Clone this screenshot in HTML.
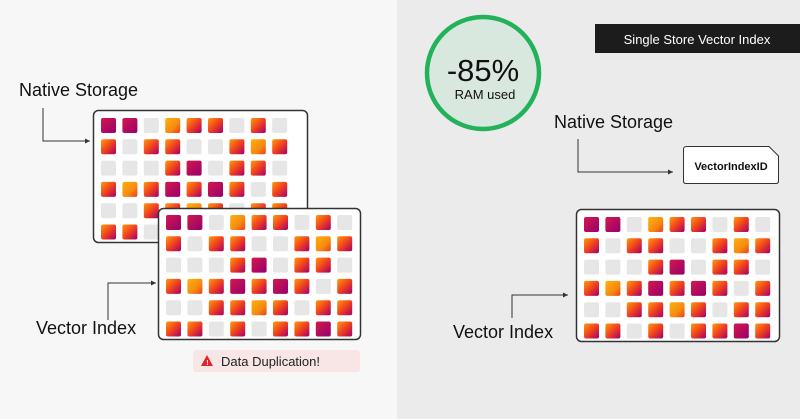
<!DOCTYPE html>
<html><head><meta charset="utf-8"><style>
html,body{margin:0;padding:0;width:800px;height:419px;overflow:hidden;background:#f7f7f7}
svg{display:block;font-family:"Liberation Sans",sans-serif}
</style></head><body>
<svg id="s" width="800" height="419" viewBox="0 0 800 419" xmlns="http://www.w3.org/2000/svg">
<defs>
<linearGradient id="gO" x1="0" y1="0" x2="1" y2="1"><stop offset="0" stop-color="#ff9a0a"/><stop offset="0.5" stop-color="#f0401f"/><stop offset="1" stop-color="#a3006a"/></linearGradient>
<linearGradient id="gY" x1="0" y1="0" x2="1" y2="1"><stop offset="0" stop-color="#ffb20a"/><stop offset="0.6" stop-color="#f68a10"/><stop offset="1" stop-color="#e8401a"/></linearGradient>
<linearGradient id="gD" x1="0" y1="0" x2="1" y2="1"><stop offset="0" stop-color="#d4184a"/><stop offset="1" stop-color="#96006e"/></linearGradient>
<marker id="ar" markerWidth="6" markerHeight="6" refX="5" refY="3" orient="auto"><path d="M0,0.5 L5,3 L0,5.5z" fill="#333"/></marker>
</defs>
<rect x="397" y="0" width="403" height="419" fill="#ebebeb"/>
<!-- left -->
<text x="19" y="96" font-size="18" fill="#111">Native Storage</text>
<polyline points="43,108 43,141 90,141" fill="none" stroke="#333" stroke-width="1" marker-end="url(#ar)"/>
<rect x="93.5" y="110.5" width="214" height="132" rx="5" fill="#fff" stroke="#333" stroke-width="1.5"/>
<g id="g1"></g>
<rect x="158.5" y="208.5" width="202" height="131" rx="5" fill="#fff" stroke="#333" stroke-width="1.5"/>
<g id="g2"></g>
<text x="36" y="334" font-size="18" fill="#111">Vector Index</text>
<polyline points="108,320 108,283 156,283" fill="none" stroke="#333" stroke-width="1" marker-end="url(#ar)"/>
<rect x="193" y="350" width="167" height="22" rx="3" fill="#f8e6e6"/>
<path d="M207,355 L213,366 L201,366z" fill="#e0242a"/>
<text x="206.3" y="365" font-size="7" fill="#fff" font-weight="bold">!</text>
<text x="221" y="366" font-size="13" fill="#222">Data Duplication!</text>
<!-- right -->
<circle cx="483" cy="73" r="56" fill="#d9e8df" stroke="#22b25a" stroke-width="4.5"/>
<text x="483" y="81" font-size="31" text-anchor="middle" fill="#111">-85%</text>
<text x="485" y="99" font-size="13" text-anchor="middle" fill="#111">RAM used</text>
<rect x="595" y="24" width="205" height="29" fill="#1c1c1c"/>
<text x="697" y="44" font-size="13" text-anchor="middle" fill="#fff">Single Store Vector Index</text>
<text x="554" y="128" font-size="18" fill="#111">Native Storage</text>
<polyline points="578,139 578,172 673,172" fill="none" stroke="#333" stroke-width="1" marker-end="url(#ar)"/>
<path d="M687,146.5 L769,146.5 L778.5,156 L778.5,181 Q778.5,183.5 776,183.5 L686,183.5 Q683.5,183.5 683.5,181 L683.5,149 Q683.5,146.5 687,146.5z" fill="#fff" stroke="#333" stroke-width="1"/>
<text x="731" y="170" font-size="11" text-anchor="middle" fill="#111" font-weight="bold">VectorIndexID</text>
<rect x="576.5" y="209.5" width="203" height="132" rx="5" fill="#fff" stroke="#333" stroke-width="1.5"/>
<g id="g3"></g>
<text x="453" y="338" font-size="18" fill="#111">Vector Index</text>
<polyline points="512,318 512,295 568,295" fill="none" stroke="#333" stroke-width="1" marker-end="url(#ar)"/>
</svg>
<script>
var P=["DDEYOOEOE","OEOOEEOYO","EEEODEOOE","OYODODOEO","EEOOYOEOO","OOEOEOODO"];
var F={E:"#e6e6e6",O:"url(#gO)",Y:"url(#gY)",D:"url(#gD)"};
function grid(id,x0,y0,p){var g=document.getElementById(id),s="";
for(var r=0;r<6;r++)for(var c=0;c<9;c++){s+='<rect x="'+(x0+c*p).toFixed(1)+'" y="'+(y0+r*p*0.995).toFixed(1)+'" width="15" height="15" rx="2" fill="'+F[P[r][c]]+'"/>';}
g.innerHTML=s;}
grid("g1",101,118,21.4);
grid("g2",166,215,21.4);
grid("g3",584,217,21.4);
</script>
</body></html>
